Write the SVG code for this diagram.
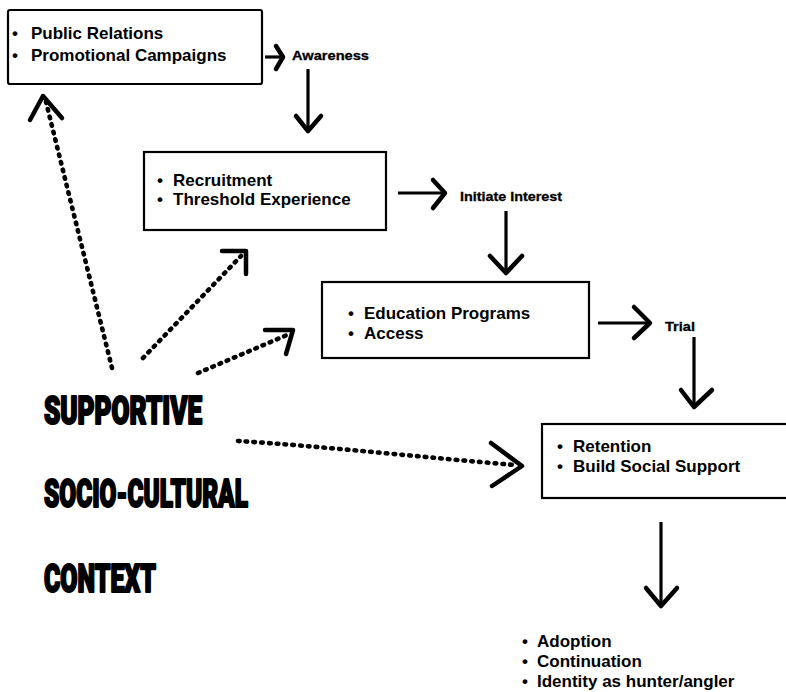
<svg xmlns="http://www.w3.org/2000/svg" width="786" height="692" viewBox="0 0 786 692">
  <style>
    .box { fill: #ffffff; stroke: #000000; stroke-width: 2.2; }
    .item { font-family: "Liberation Sans", Arial, sans-serif; font-weight: bold; font-size: 17px; fill: #000000; }
    .stage { font-family: "Liberation Sans", Arial, sans-serif; font-weight: bold; font-size: 13px; fill: #000000; stroke: #000000; stroke-width: 0.3; }
    .context { font-family: Roboto, "Liberation Sans", sans-serif; font-weight: 900; font-size: 38px; fill: #000000; stroke: #000000; stroke-width: 2.2; stroke-linejoin: round; }
    .shaft { fill: none; stroke: #000000; stroke-width: 3.2; }
    .head { fill: none; stroke: #000000; stroke-width: 4.5; stroke-linecap: round; stroke-linejoin: round; }
    .dotted { fill: none; stroke: #000000; stroke-width: 4.6; stroke-linecap: round; stroke-dasharray: 1.6 6.2; }
  </style>

  <!-- marketing boxes -->
  <g id="promotion">
    <rect class="box" x="8" y="10" width="254" height="74" rx="2"/>
    <text class="item" x="12" y="39">•<tspan x="31">Public Relations</tspan></text>
    <text class="item" x="12" y="61">•<tspan x="31">Promotional Campaigns</tspan></text>
  </g>

  <g id="recruitment">
    <rect class="box" x="144" y="152" width="242" height="78"/>
    <text class="item" x="157" y="186">•<tspan x="173">Recruitment</tspan></text>
    <text class="item" x="157" y="205">•<tspan x="173">Threshold Experience</tspan></text>
  </g>

  <g id="education">
    <rect class="box" x="322" y="282" width="267" height="76"/>
    <text class="item" x="348" y="319">•<tspan x="364">Education Programs</tspan></text>
    <text class="item" x="348" y="339">•<tspan x="364">Access</tspan></text>
  </g>

  <g id="retention">
    <rect class="box" x="542" y="424" width="260" height="74"/>
    <text class="item" x="557" y="452">•<tspan x="573">Retention</tspan></text>
    <text class="item" x="557" y="472">•<tspan x="573">Build Social Support</tspan></text>
  </g>

  <g id="adoption">
    <text class="item" x="522" y="647">•<tspan x="537">Adoption</tspan></text>
    <text class="item" x="522" y="667">•<tspan x="537">Continuation</tspan></text>
    <text class="item" x="522" y="687">•<tspan x="537">Identity as hunter/angler</tspan></text>
  </g>

  <!-- stage labels -->
  <g id="awareness">
    <text class="stage" x="292" y="60" font-size="12" textLength="77" lengthAdjust="spacingAndGlyphs">Awareness</text>
  </g>
  <g id="initiate-interest">
    <text class="stage" x="460" y="201" textLength="102" lengthAdjust="spacingAndGlyphs">Initiate Interest</text>
  </g>
  <g id="trial">
    <text class="stage" x="665" y="331" textLength="30" lengthAdjust="spacingAndGlyphs">Trial</text>
  </g>

  <!-- context words -->
  <g id="supportive-context">
    <text class="context" x="44" y="424" textLength="158" lengthAdjust="spacingAndGlyphs">SUPPORTIVE</text>
    <text class="context" x="44" y="507" textLength="204" lengthAdjust="spacingAndGlyphs">SOCIO-CULTURAL</text>
    <text class="context" x="44" y="592" textLength="112" lengthAdjust="spacingAndGlyphs">CONTEXT</text>
  </g>

  <!-- connectors -->
  <g id="connectors">
    <!-- promotion -> awareness -->
    <line class="shaft" x1="265" y1="57" x2="282" y2="57"/>
    <polyline class="head" points="276,46 283,57 276,69"/>
    <!-- awareness -> recruitment -->
    <line class="shaft" x1="308" y1="69" x2="308" y2="131"/>
    <polyline class="head" points="296,116 308,131 321,116"/>
    <!-- recruitment -> initiate interest -->
    <line class="shaft" x1="398" y1="193" x2="444" y2="193"/>
    <polyline class="head" points="433,180 445,193 433,208"/>
    <!-- initiate interest -> education -->
    <line class="shaft" x1="506" y1="211" x2="506" y2="272"/>
    <polyline class="head" points="490,256 506,273 522,256"/>
    <!-- education -> trial -->
    <line class="shaft" x1="598" y1="323" x2="649" y2="323"/>
    <polyline class="head" points="634,307 650,323 634,338"/>
    <!-- trial -> retention -->
    <line class="shaft" x1="694" y1="337" x2="694" y2="406"/>
    <polyline class="head" points="681,390 694,407 712,390"/>
    <!-- retention -> adoption -->
    <line class="shaft" x1="661" y1="522" x2="661" y2="605"/>
    <polyline class="head" points="646,588 661,606 677,588"/>

    <!-- supportive context influences -->
    <line class="dotted" x1="112" y1="368" x2="46" y2="102"/>
    <polyline class="head" points="30,120 43,96 62,118"/>

    <line class="dotted" x1="143" y1="358" x2="241" y2="256"/>
    <polyline class="head" points="222,251 246,251 246,274"/>

    <line class="dotted" x1="198" y1="373" x2="287" y2="335"/>
    <polyline class="head" points="265,330 293,330 286,354"/>

    <path class="dotted" d="M238,441 C320,446 430,458 515,465"/>
    <polyline class="head" points="491,443 522,466 492,486"/>
  </g>
</svg>
